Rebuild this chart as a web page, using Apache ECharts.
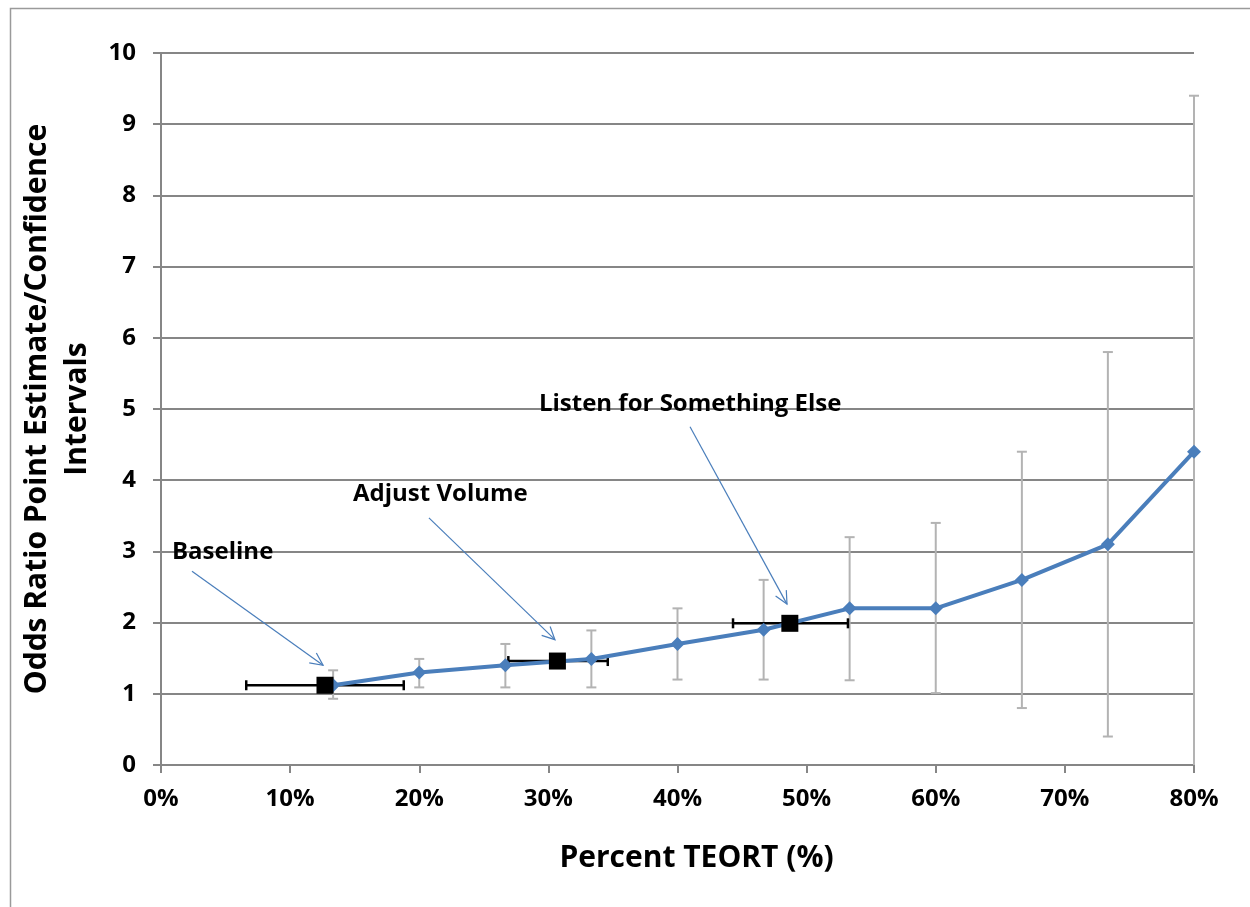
<!DOCTYPE html>
<html>
<head>
<meta charset="utf-8">
<script src="https://cdn.jsdelivr.net/npm/echarts@6/dist/echarts.min.js"></script>
<style>html,body{margin:0;padding:0;background:#fff}#chart{width:1250px;height:907px}</style>
</head>
<body>
<div id="chart"></div>
<script>
// ---- Data ----
const xPercent = [13.33, 20, 26.67, 33.33, 40, 46.67, 53.33, 60, 66.67, 73.33, 80];
const oddsRatio = [1.12, 1.3, 1.4, 1.49, 1.7, 1.9, 2.2, 2.2, 2.6, 3.1, 4.4];
const ciLow = [0.93, 1.09, 1.09, 1.09, 1.2, 1.2, 1.19, 1.01, 0.8, 0.4, -0.6];
const ciHigh = [1.33, 1.49, 1.7, 1.89, 2.2, 2.6, 3.2, 3.4, 4.4, 5.8, 9.4];

const markerX = [12.7, 30.7, 48.7];
const markerY = [1.12, 1.46, 1.99];
const markerXLow = [6.6, 26.9, 44.3];
const markerXHigh = [18.8, 34.6, 53.2];

const annotationLabels = ['Baseline', 'Adjust Volume', 'Listen for Something Else'];
const annotationTextX = [0.85, 14.87, 29.27];
const annotationTextY = [2.99, 3.81, 5.07];
const arrowFromX = [2.4, 20.75, 40.97];
const arrowFromY = [2.72, 3.47, 4.75];
const arrowToX = [12.55, 30.51, 48.48];
const arrowToY = [1.40, 1.76, 2.26];

const yTicks = [0,1,2,3,4,5,6,7,8,9,10];

const FONT = '"Open Sans", sans-serif';
const GRID_GRAY = '#868686';

const chart = echarts.init(document.getElementById('chart'), null, {renderer: 'canvas'});

const errData = xPercent.map((x, i) => [x, ciLow[i], ciHigh[i]]);
const lineData = xPercent.map((x, i) => [x, oddsRatio[i]]);
const markerData = markerX.map((x, i) => [x, markerY[i]]);
const markerErrData = markerX.map((x, i) => [markerXLow[i], markerXHigh[i], markerY[i]]);
const annData = annotationLabels.map((t, i) => [annotationTextX[i], annotationTextY[i], arrowFromX[i], arrowFromY[i], arrowToX[i], arrowToY[i], i]);

const option = {
  animation: false,
  backgroundColor: '#fff',
  graphic: [{
    type: 'rect', left: 8, top: 6, z: -10,
    shape: {width: 1400, height: 1100},
    style: {fill: 'none', stroke: '#9a9a9a', lineWidth: 1.5}
  }],
  grid: {left: 161, right: 56, top: 53, bottom: 142},
  xAxis: {
    type: 'value', min: 0, max: 80, interval: 10,
    name: 'Percent TEORT (%)',
    nameLocation: 'middle', nameGap: 78,
    nameTextStyle: {fontFamily: FONT, fontWeight: 'bold', fontSize: 30, color: '#000', padding: [0, 0, 0, 38]},
    axisLine: {show: true, lineStyle: {color: GRID_GRAY, width: 2}},
    axisTick: {show: true, inside: false, length: 8, lineStyle: {color: GRID_GRAY, width: 2}},
    axisLabel: {formatter: '{value}%', fontFamily: FONT, fontWeight: 'bold', fontSize: 24, color: '#000', margin: 22},
    splitLine: {show: false}
  },
  yAxis: {
    type: 'value', min: 0, max: 10, interval: 1,
    name: 'Odds Ratio Point Estimate/Confidence\nIntervals',
    nameLocation: 'middle', nameGap: 64, nameRotate: 90,
    nameTextStyle: {fontFamily: FONT, fontWeight: 'bold', fontSize: 30, color: '#000', lineHeight: 40, align: 'center'},
    axisLine: {show: true, lineStyle: {color: GRID_GRAY, width: 2}},
    axisTick: {show: true, inside: false, length: 8, lineStyle: {color: GRID_GRAY, width: 2}},
    axisLabel: {fontFamily: FONT, fontWeight: 'bold', fontSize: 24, color: '#000', margin: 25,
      formatter: v => yTicks.includes(v) ? String(v) : ''},
    splitLine: {show: true, lineStyle: {color: GRID_GRAY, width: 2}}
  },
  series: [
    {
      type: 'custom', name: 'CI', z: 1, clip: false,
      data: errData,
      renderItem: function (params, api) {
        const x = api.value(0), lo = api.value(1), hi = api.value(2);
        const top = api.coord([x, hi]);
        const bot = api.coord([x, Math.max(lo, 0)]);
        const cw = 5;
        const st = {stroke: '#b3b3b3', lineWidth: 2};
        const ch = [
          {type: 'line', shape: {x1: top[0], y1: top[1], x2: bot[0], y2: bot[1]}, style: st},
          {type: 'line', shape: {x1: top[0] - cw, y1: top[1], x2: top[0] + cw, y2: top[1]}, style: st}
        ];
        if (lo >= 0) ch.push({type: 'line', shape: {x1: bot[0] - cw, y1: bot[1], x2: bot[0] + cw, y2: bot[1]}, style: st});
        return {type: 'group', children: ch};
      }
    },
    {
      type: 'custom', name: 'MarkerErr', z: 2, clip: false,
      data: markerErrData,
      renderItem: function (params, api) {
        const l = api.coord([api.value(0), api.value(2)]);
        const r = api.coord([api.value(1), api.value(2)]);
        const ch2 = 5;
        const st = {stroke: '#000', lineWidth: 2.5};
        return {type: 'group', children: [
          {type: 'line', shape: {x1: l[0], y1: l[1], x2: r[0], y2: r[1]}, style: st},
          {type: 'line', shape: {x1: l[0], y1: l[1] - ch2, x2: l[0], y2: l[1] + ch2}, style: st},
          {type: 'line', shape: {x1: r[0], y1: r[1] - ch2, x2: r[0], y2: r[1] + ch2}, style: st}
        ]};
      }
    },
    {
      type: 'line', name: 'Odds ratio', z: 3,
      data: lineData,
      symbol: 'diamond', symbolSize: 14,
      lineStyle: {color: '#4a7ebb', width: 4},
      itemStyle: {color: '#4a7ebb'}
    },
    {
      type: 'scatter', name: 'Markers', z: 4,
      data: markerData,
      symbol: 'rect', symbolSize: 17,
      itemStyle: {color: '#000', opacity: 1}
    },
    {
      type: 'custom', name: 'Annotations', z: 5, clip: false,
      data: annData,
      renderItem: function (params, api) {
        const idx = api.value(6);
        const tp = api.coord([api.value(0), api.value(1)]);
        const f = api.coord([api.value(2), api.value(3)]);
        const t = api.coord([api.value(4), api.value(5)]);
        const ang = Math.atan2(t[1] - f[1], t[0] - f[0]);
        const L = 14, a = 0.45;
        const p1 = [t[0] - L * Math.cos(ang - a), t[1] - L * Math.sin(ang - a)];
        const p2 = [t[0] - L * Math.cos(ang + a), t[1] - L * Math.sin(ang + a)];
        const st = {stroke: '#4a7ebb', lineWidth: 1.2};
        return {type: 'group', children: [
          {type: 'line', shape: {x1: f[0], y1: f[1], x2: t[0], y2: t[1]}, style: st},
          {type: 'polyline', shape: {points: [p1, t, p2]}, style: Object.assign({fill: 'none'}, st)},
          {type: 'text', style: {text: annotationLabels[idx], x: tp[0], y: tp[1], align: 'left', verticalAlign: 'middle',
            font: 'bold 24px ' + FONT, fill: '#000'}}
        ]};
      }
    }
  ]
};
chart.setOption(option);
</script>
</body>
</html>
